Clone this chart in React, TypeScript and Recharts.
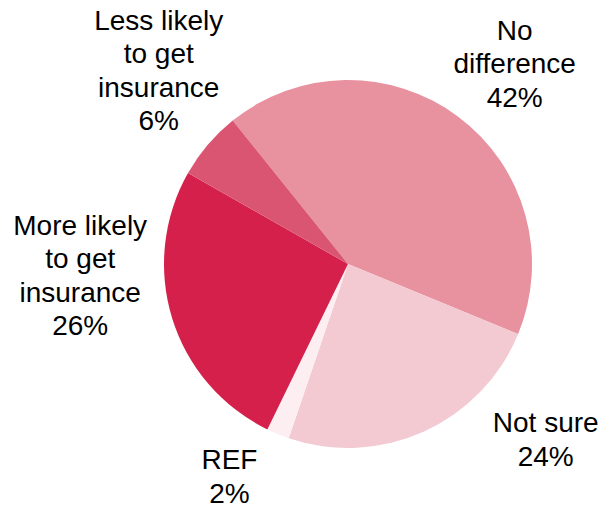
import React from "react";
import { PieChart, Pie, Cell } from "recharts";

const categories = [
  "No difference",
  "Not sure",
  "REF",
  "More likely to get insurance",
  "Less likely to get insurance",
];
const values = [42, 24, 2, 26, 6];
const labelLines = [
  ["No", "difference"],
  ["Not sure"],
  ["REF"],
  ["More likely", "to get", "insurance"],
  ["Less likely", "to get", "insurance"],
];
const colors = ["#E8919F", "#F3C9D2", "#FDEEF2", "#D4204A", "#DA5571"];

// label placement tweaks (angle offset from slice mid-angle, distance from centre)
const labelNudge = [
  { da: -2.9, r: 261 },
  { da: 24.1, r: 264 },
  { da: -6.8, r: 243 },
  { da: -14.9, r: 268 },
  { da: -5.3, r: 271 },
];

const data = categories.map((name, i) => ({ name, value: values[i] }));

const RAD = Math.PI / 180;
const FONT = 28;
const LH = 33.5;

const renderLabel = (props: any) => {
  const { cx, cy, midAngle, index, value } = props;
  const nudge = labelNudge[index];
  const ang = midAngle + nudge.da;
  const x = cx + nudge.r * Math.cos(-ang * RAD);
  const y = cy + nudge.r * Math.sin(-ang * RAD);
  const lines = [...labelLines[index], `${value}%`];
  const first = y - ((lines.length - 1) / 2) * LH + FONT * 0.358;
  return (
    <text
      key={`lbl-${index}`}
      x={x}
      y={first}
      textAnchor="middle"
      fontSize={FONT}
      fontFamily="'Liberation Sans', Arial, sans-serif"
      fill="#000"
    >
      {lines.map((l, i) => (
        <tspan key={i} x={x} y={first + i * LH}>
          {l}
        </tspan>
      ))}
    </text>
  );
};

export default function App() {
  return (
    <div style={{ position: "absolute", left: 0, top: 0, background: "#fff" }}>
      <PieChart width={606} height={509} margin={{ top: 0, right: 0, bottom: 0, left: 0 }}>
        <Pie
          data={data}
          dataKey="value"
          nameKey="name"
          cx={348}
          cy={264}
          outerRadius={184}
          innerRadius={0}
          startAngle={128.8}
          endAngle={-231.2}
          stroke="none"
          label={renderLabel}
          labelLine={false}
          isAnimationActive={false}
        >
          {data.map((d, i) => (
            <Cell key={d.name} fill={colors[i]} />
          ))}
        </Pie>
      </PieChart>
    </div>
  );
}
